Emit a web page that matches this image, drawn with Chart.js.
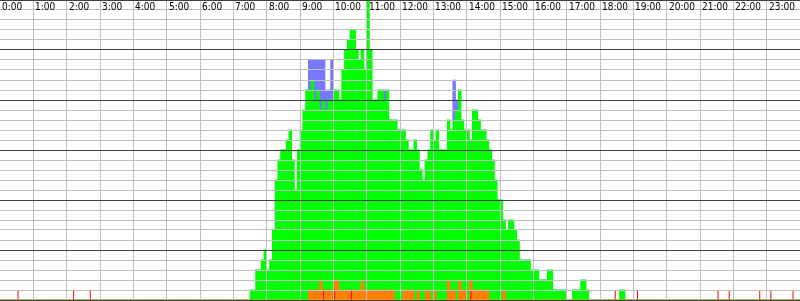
<!DOCTYPE html>
<html>
<head>
<meta charset="utf-8">
<script src="https://cdn.jsdelivr.net/npm/chart.js@4/dist/chart.umd.min.js"></script>
<style>
html, body { margin: 0; padding: 0; background: #fff; }
canvas { display: block; }
</style>
</head>
<body>
<canvas id="graphCanvas-activity" width="800" height="301"></canvas>
<script>
var hourLabels = ['0:00', '1:00', '2:00', '3:00', '4:00', '5:00', '6:00', '7:00', '8:00', '9:00', '10:00', '11:00',
                  '12:00', '13:00', '14:00', '15:00', '16:00', '17:00', '18:00', '19:00', '20:00', '21:00', '22:00', '23:00'];

// 5 minute slots, one line per hour
var orange = [
    0,0,0,0,0,0,0,0,0,0,0,0,  0,0,0,0,0,0,0,0,0,0,0,0,  0,0,0,0,0,0,0,0,0,0,0,0,  0,0,0,0,0,0,0,0,0,0,0,0,
    0,0,0,0,0,0,0,0,0,0,0,0,  0,0,0,0,0,0,0,0,0,0,0,0,  0,0,0,0,0,0,0,0,0,0,0,0,  0,0,0,0,0,0,0,0,0,0,0,0,
    0,0,0,0,0,0,0,0,0,0,0,0,  0,0,0,1,1,1,1,2,1,1,1,1,  2,2,1,1,1,1,1,1,1,1,2,1,  1,1,1,1,1,1,1,1,1,1,0,0,
    0,1,1,1,1,0,1,0,0,1,1,0,  1,0,0,0,0,2,1,1,0,2,1,1,  0,2,1,1,1,1,1,1,0,0,0,0,  0,1,0,0,0,0,0,0,0,0,0,0,
    0,0,0,0,0,0,0,0,0,0,0,0,  0,0,0,0,0,0,0,0,0,0,0,0,  0,0,0,0,0,0,0,0,0,0,0,0,  0,0,0,0,0,0,0,0,0,0,0,0,
    0,0,0,0,0,0,0,0,0,0,0,0,  0,0,0,0,0,0,0,0,0,0,0,0,  0,0,0,0,0,0,0,0,0,0,0,0,  0,0,0,0,0,0,0,0,0,0,0,0
];
var green = [
    0,0,0,0,0,0,0,0,0,0,0,0,  0,0,0,0,0,0,0,0,0,0,0,0,  0,0,0,0,0,0,0,0,0,0,0,0,  0,0,0,0,0,0,0,0,0,0,0,0,
    0,0,0,0,0,0,0,0,0,0,0,0,  0,0,0,0,0,0,0,0,0,0,0,0,  0,0,0,0,0,0,0,0,0,0,0,0,  0,0,0,0,0,0,1,1,3,3,4,5,
    3,4,7,12,14,15,15,16,17,14,11,15,  17,19,21,20,21,19,20,17,19,18,19,19,  19,19,19,22,24,25,26,26,24,23,23,22,  29,24,19,19,20,20,19,20,17,17,18,17,
    17,16,15,14,14,16,14,13,12,13,14,17,  15,17,15,15,15,16,16,17,19,19,17,16,  17,14,18,18,17,16,16,15,15,14,12,10,  10,7,7,8,8,7,6,4,4,4,4,3,
    3,3,2,2,2,3,3,1,1,1,1,1,  0,0,1,1,1,2,2,1,0,0,0,0,  0,0,0,0,0,0,0,1,1,0,0,0,  0,0,0,0,0,0,0,0,0,0,0,0,
    0,0,0,0,0,0,0,0,0,0,0,0,  0,0,0,0,0,0,0,0,0,0,0,0,  0,0,0,0,0,0,0,0,0,0,0,0,  0,0,0,0,0,0,0,0,0,0,0,0
];
var blue = [
    0,0,0,0,0,0,0,0,0,0,0,0,  0,0,0,0,0,0,0,0,0,0,0,0,  0,0,0,0,0,0,0,0,0,0,0,0,  0,0,0,0,0,0,0,0,0,0,0,0,
    0,0,0,0,0,0,0,0,0,0,0,0,  0,0,0,0,0,0,0,0,0,0,0,0,  0,0,0,0,0,0,0,0,0,0,0,0,  0,0,0,0,0,0,0,0,0,0,0,0,
    0,0,0,0,0,0,0,0,0,0,0,0,  0,0,0,3,2,4,3,5,4,2,1,4,  0,0,0,0,0,0,0,0,0,0,0,0,  0,0,0,0,0,0,1,0,0,0,0,0,
    0,0,0,0,0,0,0,0,0,0,0,0,  0,0,0,0,0,0,0,4,1,0,0,0,  0,0,0,0,0,0,0,0,0,0,0,0,  0,0,0,0,0,0,0,0,0,0,0,0,
    0,0,0,0,0,0,0,0,0,0,0,0,  0,0,0,0,0,0,0,0,0,0,0,0,  0,0,0,0,0,0,0,0,0,0,0,0,  0,0,0,0,0,0,0,0,0,0,0,0,
    0,0,0,0,0,0,0,0,0,0,0,0,  0,0,0,0,0,0,0,0,0,0,0,0,  0,0,0,0,0,0,0,0,0,0,0,0,  0,0,0,0,0,0,0,0,0,0,0,0
];
var red = [
    0,0,0,0,0,0,1,0,0,0,0,0,  0,0,0,0,0,0,0,0,0,0,0,0,  0,0,1,0,0,0,0,0,1,0,0,0,  0,0,0,0,0,0,0,0,0,0,0,0,
    0,0,0,0,0,0,0,0,0,0,0,0,  0,0,0,0,0,0,0,0,0,0,0,0,  0,0,0,0,0,0,0,0,0,0,0,0,  0,0,0,0,0,0,0,0,0,0,0,0,
    0,0,0,0,0,0,0,0,0,0,0,0,  0,0,0,0,0,0,0,0,1,0,0,0,  1,0,0,0,0,0,1,0,0,0,0,0,  0,0,0,0,0,0,0,0,0,0,0,0,
    0,0,0,0,0,0,0,0,0,0,0,0,  0,0,0,0,0,0,0,0,0,0,0,0,  0,1,0,0,0,0,0,0,0,0,0,0,  0,0,0,0,0,0,0,0,0,0,0,0,
    0,0,0,0,0,0,0,0,0,0,0,0,  0,0,0,0,0,0,0,0,0,0,0,0,  0,0,0,0,0,1,0,0,0,0,0,0,  0,1,0,0,0,0,0,0,0,0,0,0,
    0,0,0,0,0,0,0,0,0,0,0,0,  0,0,0,0,0,0,1,0,0,0,1,0,  0,0,0,0,0,0,0,0,0,1,0,0,  0,1,0,0,0,0,0,0,0,1,0,0
];

var slots = [];
for (var i = 0; i < green.length; i++) {
    slots.push(Math.floor(i / 12) + ':' + ('0' + (i % 12) * 5).slice(-2));
}

var hourLabelsPlugin = {
    id: 'hourLabels',
    afterDraw: function (chart) {
        var ctx = chart.ctx;
        var scale = chart.scales.h;
        ctx.save();
        ctx.font = '10px "Liberation Sans Narrow", "DejaVu Sans Condensed", "Liberation Sans", sans-serif';
        ctx.fillStyle = '#000000';
        ctx.textAlign = 'left';
        ctx.textBaseline = 'alphabetic';
        for (var i = 0; i < hourLabels.length; i++) {
            ctx.fillText(hourLabels[i], Math.round(scale.getPixelForValue(i)) + 2, 10);
        }
        ctx.restore();
    }
};

function vLineColor(c) {
    if (!c.tick || c.tick.value === 0) return 'rgba(0,0,0,0)';
    return '#c0c0c0';
}
function hLineColor(c) {
    if (!c.tick) return '#c0c0c0';
    return c.tick.value % 5 === 0 ? '#404040' : '#c0c0c0';
}

var barOpts = { barPercentage: 1, categoryPercentage: 1, borderWidth: 0 };

new Chart(document.getElementById('graphCanvas-activity'), {
    type: 'bar',
    data: {
        labels: slots,
        datasets: [
            { label: 'red', data: red, backgroundColor: '#ff0000', stack: 'r', grouped: false,
              maxBarThickness: 1, inflateAmount: 0, order: 0 },
            Object.assign({ label: 'orange', data: orange, backgroundColor: '#ff8000', stack: 'a', order: 1 }, barOpts),
            Object.assign({ label: 'green', data: green, backgroundColor: '#00ff00', stack: 'a', order: 1 }, barOpts),
            Object.assign({ label: 'blue', data: blue, backgroundColor: '#7878ff', stack: 'a', order: 1 }, barOpts)
        ]
    },
    options: {
        responsive: false,
        animation: false,
        layout: { padding: { left: 0, right: 0, top: 0, bottom: 1 } },
        plugins: { legend: { display: false }, tooltip: { enabled: false } },
        scales: {
            x: { stacked: true, display: false },
            h: {
                type: 'linear', position: 'bottom', min: 0, max: 24, offset: false,
                ticks: { display: false, stepSize: 1, maxTicksLimit: 100, autoSkip: false },
                grid: { z: 1, offset: false, drawTicks: false, color: vLineColor },
                border: { display: false }
            },
            y: {
                stacked: true, min: 0, max: 30,
                ticks: { display: false, stepSize: 1, maxTicksLimit: 100, autoSkip: false },
                grid: { z: 1, drawTicks: false, color: hLineColor },
                border: { display: false }
            }
        }
    },
    plugins: [hourLabelsPlugin]
});
</script>
</body>
</html>
